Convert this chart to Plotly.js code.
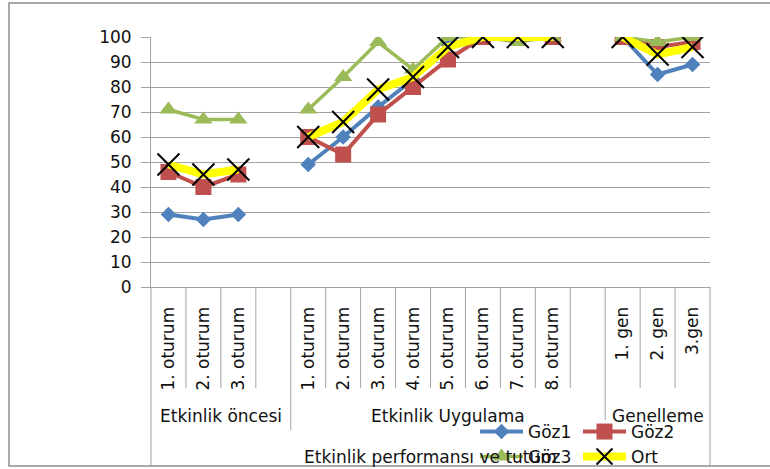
<!DOCTYPE html>
<html><head><meta charset="utf-8">
<script src="https://cdn.plot.ly/plotly-3.0.1.min.js"></script>
<style>html,body{margin:0;padding:0;background:#fff;} #chart{width:770px;height:469px;}</style>
</head><body><div id="chart"></div>
<script>
// ---- data ----
const categories = ['1. oturum','2. oturum','3. oturum','',
  '1. oturum','2. oturum','3. oturum','4. oturum','5. oturum','6. oturum','7. oturum','8. oturum','',
  '1. gen','2. gen','3.gen'];
const groups = ['Etkinlik öncesi','Etkinlik Uygulama','Genelleme'];
const groupSizes = [4, 9, 3];
const axisTitle = 'Etkinlik performansı ve tutum';
const seriesNames = ['Göz1','Göz2','Göz3','Ort'];
const goz1 = [29,27,29,null, 49,60,72,83,97,100,100,100,null, 100,85,89];
const goz2 = [46,40,45,null, 60,53,69,80,91,100,100,100,null, 100,96,98];
const goz3 = [71,67,67,null, 71,84,98,87,100,100,98,100,null, 100,98,100];
const ort  = [49,45,47,null, 60,66,79,84,96,100,100,100,null, 100,93,96];
const yTickVals = [0,10,20,30,40,50,60,70,80,90,100];

// ---- layout constants ----
const W = 770, H = 469;
const M = {l:151, r:60, t:37, b:182, autoexpand:false};
const plotW = W - M.l - M.r, plotH = H - M.t - M.b;
const plotBottom = H - M.b;
const py = p => (plotBottom - p) / plotH;   // pixel y -> paper y
const px = p => (p - M.l) / plotW;          // pixel x -> paper x
const FONT = 'DejaVu Sans, sans-serif';
const GRID = '#a3a3a3';
const TXT = '#111';

const xIdx = categories.map((_, i) => i);
const n = categories.length;

const styles = [
  {color:'#4F81BD', width:4, symbol:'diamond', size:12, mcolor:'#4F81BD', lw:0},
  {color:'#C0504D', width:4, symbol:'square', size:16, mcolor:'#C0504D', lw:0},
  {color:'#9BBB59', width:3.5, symbol:'triangle-up', size:16, mcolor:'#9BBB59', lw:0},
  {color:'#FFFF00', width:8, symbol:'x-thin-open', size:22, mcolor:'#000', lw:2}
];
const seriesData = [goz1, goz2, goz3, ort];
const legendOf = ['legend','legend','legend2','legend2'];

const traces = seriesData.map((vals, k) => ({
  type:'scatter', mode:'lines+markers', name: seriesNames[k],
  x: xIdx, y: vals, connectgaps:false,
  line:{color:styles[k].color, width:styles[k].width},
  marker:{symbol:styles[k].symbol, size:styles[k].size, color:styles[k].mcolor,
          line:{color:styles[k].mcolor, width:styles[k].lw}},
  legend: legendOf[k], hoverinfo:'x+y'
}));

// separators in the category label area
const shapes = [];
const groupStarts = [];
let acc = 0;
groupSizes.forEach(s => { groupStarts.push(acc); acc += s; });
const groupLineEnd = {0: 466, 4: 430, 13: 420, 16: 466};
for (let b = 0; b <= n; b++) {
  const endPx = (b in groupLineEnd) ? groupLineEnd[b] : 388;
  shapes.push({type:'line', xref:'paper', yref:'paper', x0:b/n, x1:b/n, y0:0, y1:py(endPx),
    line:{color:GRID, width:1}});
}
// outer chart border
shapes.push({type:'rect', xref:'paper', yref:'paper', x0:px(9), x1:px(790), y0:py(466), y1:py(3),
  line:{color:'#8f8f8f', width:1.5}, fillcolor:'rgba(0,0,0,0)'});

const annotations = groups.map((g, i) => ({
  text: g, xref:'x', yref:'paper', x: groupStarts[i] + (groupSizes[i] - 1) / 2, y: py(416),
  xanchor:'center', yanchor:'middle', showarrow:false, font:{family:FONT, size:17, color:TXT}
}));
annotations.push({text: axisTitle, xref:'x', yref:'paper', x:(n - 1) / 2, y: py(457),
  xanchor:'center', yanchor:'middle', showarrow:false, font:{family:FONT, size:17, color:TXT}});

const legendBase = {orientation:'h', xanchor:'left', yanchor:'middle', bgcolor:'rgba(0,0,0,0)',
  borderwidth:0, font:{family:FONT, size:17, color:TXT}, itemwidth:43, entrywidth:45,
  entrywidthmode:'pixels', tracegroupgap:0, itemclick:false, itemdoubleclick:false};

const layout = {
  width:W, height:H, margin:M, paper_bgcolor:'#fff', plot_bgcolor:'#fff',
  font:{family:FONT, size:17, color:TXT},
  showlegend:true,
  xaxis:{range:[-0.5, n - 0.5], tickvals:xIdx, ticktext:categories, tickangle:-90,
    showgrid:false, zeroline:false, showline:true, linecolor:GRID, linewidth:1,
    ticks:'', ticklabelstandoff:12, tickfont:{family:FONT, size:17, color:TXT}, fixedrange:true},
  yaxis:{range:[0,100], tickvals:yTickVals, showgrid:true, gridcolor:GRID, gridwidth:1,
    zeroline:false, showline:true, linecolor:GRID, linewidth:1, ticks:'outside', ticklen:9,
    tickcolor:GRID, ticklabelstandoff:6, tickfont:{family:FONT, size:17, color:TXT}, fixedrange:true},
  legend:Object.assign({}, legendBase, {x:px(475), y:py(432)}),
  legend2:Object.assign({}, legendBase, {x:px(475), y:py(457)}),
  shapes, annotations
};

Plotly.newPlot('chart', traces, layout, {displayModeBar:false, staticPlot:true});
</script></body></html>
